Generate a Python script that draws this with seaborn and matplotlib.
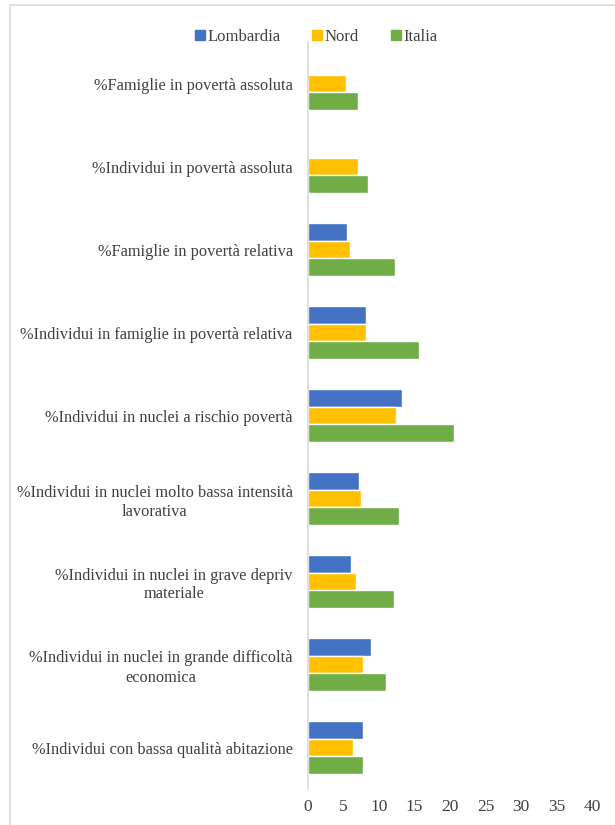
import numpy as np
import pandas as pd
import matplotlib
matplotlib.use("Agg")
import matplotlib.pyplot as plt
from matplotlib.patches import Rectangle
import seaborn as sns

categories = [
    "%Famiglie in povertà assoluta",
    "%Individui in povertà assoluta",
    "%Famiglie in povertà relativa",
    "%Individui in famiglie in povertà relativa",
    "%Individui in nuclei a rischio povertà",
    "%Individui in nuclei molto bassa intensità\nlavorativa",
    "%Individui in nuclei in grave depriv\nmateriale",
    "%Individui in nuclei in grande difficoltà\neconomica",
    "%Individui con bassa qualità abitazione",
]
series = ["Lombardia", "Nord", "Italia"]
lombardia = [np.nan, np.nan, 5.5, 8.1, 13.3, 7.2, 6.1, 8.9, 7.8]
nord = [5.4, 7.0, 5.9, 8.2, 12.4, 7.5, 6.7, 7.7, 6.3]
italia = [7.0, 8.4, 12.3, 15.6, 20.6, 12.8, 12.1, 11.0, 7.7]
xticks = [0, 5, 10, 15, 20, 25, 30, 35, 40]
colors = ["#4472C4", "#FFC000", "#70AD47"]

rows = []
for s, vals in zip(series, [lombardia, nord, italia]):
    for c, v in zip(categories, vals):
        rows.append({"cat": c, "serie": s, "val": v})
df = pd.DataFrame(rows)

sns.set_theme(style="white")
plt.rcParams["font.family"] = ["Liberation Serif", "DejaVu Serif"]

fig = plt.figure(figsize=(6.15, 8.25), dpi=100)
ax = fig.add_axes([308 / 615, 1 - 789 / 825, (592 - 308) / 615, (789 - 42) / 825])

sns.barplot(data=df, y="cat", x="val", hue="serie", hue_order=series,
            order=categories, palette=colors, orient="h", width=0.63,
            saturation=1, ax=ax, legend=True)

ax.set_xlim(0, 40)
ax.set_xticks(xticks)
ax.set_xticklabels([str(t) for t in xticks])
ax.set_xlabel("")
ax.set_ylabel("")
for sp in ["top", "right", "bottom"]:
    ax.spines[sp].set_visible(False)
ax.spines["left"].set_color("#D9D9D9")
ax.spines["left"].set_linewidth(1.2)
ax.tick_params(axis="x", length=0, labelsize=12.5, colors="#404040", pad=7)
ax.tick_params(axis="y", length=0, labelsize=11.8, colors="#404040", pad=11)
for lab in ax.get_yticklabels():
    lab.set_multialignment("center")
    lab.set_linespacing(1.25)

ax.legend_.remove()
handles = [plt.Rectangle((0, 0), 1, 1, color=c) for c in colors]
fig.legend(handles, series, loc="center", bbox_to_anchor=(316 / 615, 1 - 37 / 825),
           ncol=3, frameon=False, fontsize=12, handlelength=0.6, handleheight=0.6,
           handletextpad=0.15, columnspacing=1.9, labelcolor="#404040")

fig.patches.append(Rectangle((10 / 615, -0.05), 1.0, 1 - 5 / 825 + 0.05,
                             transform=fig.transFigure, fill=False,
                             edgecolor="#D9D9D9", linewidth=1.2))

fig.savefig("out.png", dpi=100)
